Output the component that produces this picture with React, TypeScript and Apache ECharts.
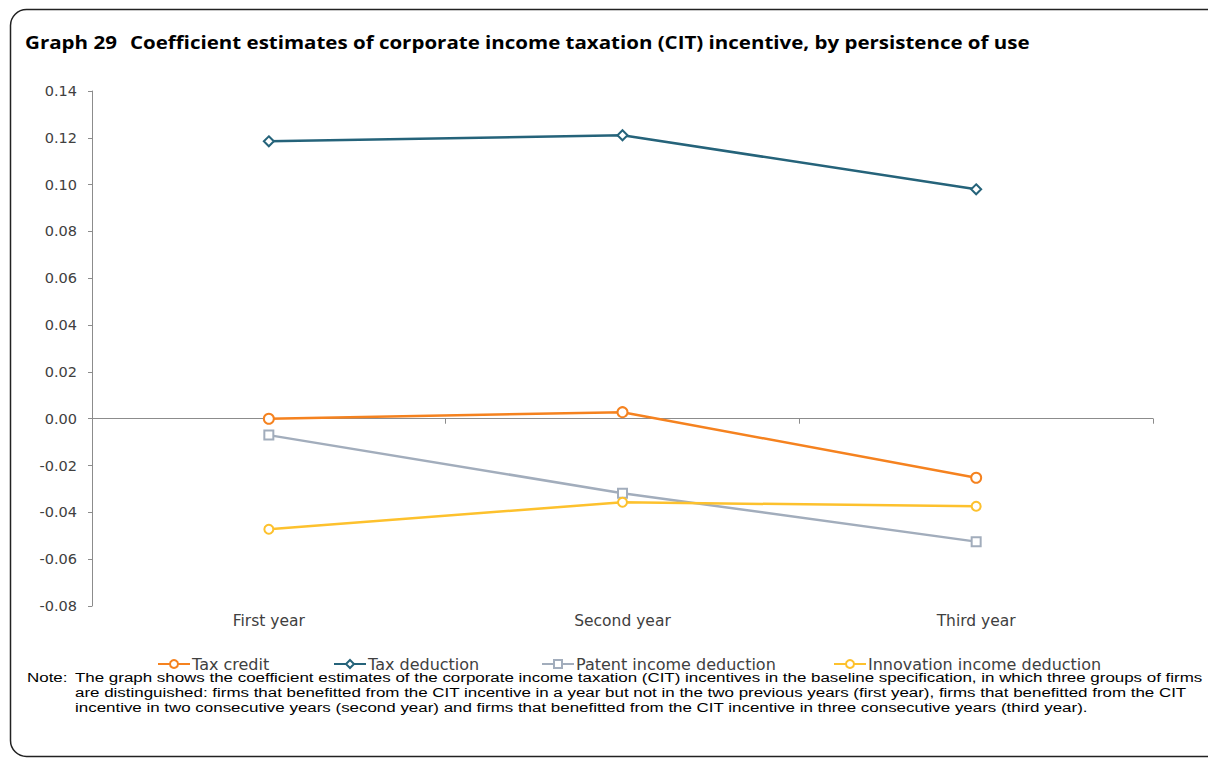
import React, { useEffect, useRef } from "react";
import * as echarts from "echarts";

const categories = ["First year", "Second year", "Third year"];
const taxCredit = [0.0, 0.0028, -0.0252];
const taxDeduction = [0.1185, 0.1211, 0.098];
const patentIncome = [-0.007, -0.0318, -0.0525];
const innovationIncome = [-0.0472, -0.0357, -0.0374];
const seriesNames = ["Tax credit", "Tax deduction", "Patent income deduction", "Innovation income deduction"];
const yTicks = { min: -0.08, max: 0.14, step: 0.02 };

const titleNum = "Graph 29";
const titleText = "Coefficient estimates of corporate income taxation (CIT) incentive, by persistence of use";
const noteLabel = "Note:";
const noteLines = [
  "The graph shows the coefficient estimates of the corporate income taxation (CIT) incentives in the baseline specification, in which three groups of firms",
  "are distinguished: firms that benefitted from the CIT incentive in a year but not in the two previous years (first year), firms that benefitted from the CIT",
  "incentive in two consecutive years (second year) and firms that benefitted from the CIT incentive in three consecutive years (third year).",
];

const FONT = "DejaVu Sans";
const TITLE_FONT = "Open Sans";
const NOTE_FONT = "Liberation Sans";

function measure(text: string, font: string): number {
  const c = document.createElement("canvas").getContext("2d");
  if (!c) return 0;
  c.font = font;
  return c.measureText(text).width;
}

export default function App() {
  const ref = useRef<HTMLDivElement>(null);
  useEffect(() => {
    if (!ref.current) return;
    const chart = echarts.init(ref.current, null, { renderer: "svg" });

    const titleFontSize = 18.5;
    const titleCss = `bold ${titleFontSize}px "${TITLE_FONT}"`;
    const wNum = measure(titleNum, titleCss) || 80;
    const wTitle = measure(titleText, titleCss) || 800;
    const sNum = 92 / wNum;
    const sTitle = 900 / wTitle;

    const noteFontSize = 13.5;
    const noteCss = `${noteFontSize}px "${NOTE_FONT}"`;
    const wNote = measure(noteLines[0], noteCss) || 1000;
    const sNote = 1129 / wNote;

    const mk = (name: string, data: number[], color: string, symbol: string, size: number) => ({
      name,
      type: "line",
      data,
      xAxisIndex: 0,
      yAxisIndex: 0,
      symbol,
      symbolSize: size,
      showAllSymbol: true,
      lineStyle: { color, width: 2.5 },
      itemStyle: { color, borderColor: color, borderWidth: 1 },
      emphasis: { disabled: true },
    });

    const legendLefts = [157, 333, 541, 833];
    const legends = seriesNames.map((n, i) => ({
      left: legendLefts[i],
      top: 656,
      padding: 0,
      itemWidth: 32,
      itemHeight: 10,
      itemGap: 0,
      textStyle: { fontFamily: FONT, fontSize: 16, color: "#404040", padding: [0, 0, 0, -3] },
      data: [n],
    }));

    chart.setOption({
      animation: false,
      backgroundColor: "#ffffff",
      grid: { left: 92, right: 55, top: 91, bottom: 154, containLabel: false },
      legend: legends,
      xAxis: [
        {
          type: "category",
          data: categories,
          boundaryGap: true,
          axisLine: { onZero: true, lineStyle: { color: "#8c8c8c", width: 1 } },
          axisTick: { show: true, length: 5, lineStyle: { color: "#8c8c8c" } },
          axisLabel: { show: false },
        },
        {
          type: "category",
          data: categories,
          position: "bottom",
          boundaryGap: true,
          axisLine: { show: false },
          axisTick: { show: false },
          axisLabel: { margin: 7, fontFamily: FONT, fontSize: 15.5, color: "#404040" },
        },
      ],
      yAxis: {
        type: "value",
        min: yTicks.min,
        max: yTicks.max,
        interval: yTicks.step,
        axisLine: { show: true, lineStyle: { color: "#8c8c8c", width: 1 } },
        axisTick: { show: true, length: 4, lineStyle: { color: "#8c8c8c" } },
        splitLine: { show: false },
        axisLabel: {
          margin: 15,
          fontFamily: FONT,
          fontSize: 14.5,
          color: "#404040",
          formatter: (v: number) => v.toFixed(2),
        },
      },
      series: [
        mk(seriesNames[0], taxCredit, "#F5821F", "emptyCircle", 10),
        mk(seriesNames[1], taxDeduction, "#25637A", "emptyDiamond", 10),
        mk(seriesNames[2], patentIncome, "#A2ADBC", "emptyRect", 9),
        mk(seriesNames[3], innovationIncome, "#FDC12D", "emptyCircle", 9),
      ],
      graphic: [
        {
          type: "rect",
          shape: { x: 10.5, y: 9.5, width: 1400, height: 747, r: [16, 0, 0, 16] },
          style: { fill: "none", stroke: "#222", lineWidth: 1.5 },
          silent: true,
        },
        {
          type: "text",
          x: 25,
          y: 42,
          scaleX: sNum,
          style: {
            text: titleNum,
            fontFamily: TITLE_FONT,
            fontWeight: "bold",
            fontSize: titleFontSize,
            fill: "#000",
            align: "left",
            verticalAlign: "middle",
          },
        },
        {
          type: "text",
          x: 130,
          y: 42,
          scaleX: sTitle,
          style: {
            text: titleText,
            fontFamily: TITLE_FONT,
            fontWeight: "bold",
            fontSize: titleFontSize,
            fill: "#000",
            align: "left",
            verticalAlign: "middle",
          },
        },
        {
          type: "text",
          x: 27,
          y: 677,
          scaleX: sNote,
          style: {
            text: noteLabel,
            fontFamily: NOTE_FONT,
            fontSize: noteFontSize,
            fill: "#000",
            align: "left",
            verticalAlign: "middle",
          },
        },
        ...noteLines.map((line, i) => ({
          type: "text",
          x: 75,
          y: 677 + i * 15,
          scaleX: sNote,
          style: {
            text: line,
            fontFamily: NOTE_FONT,
            fontSize: noteFontSize,
            fill: "#000",
            align: "left",
            verticalAlign: "middle",
          },
        })),
      ],
    });
    return () => chart.dispose();
  }, []);
  return <div ref={ref} style={{ position: "absolute", left: 0, top: 0, width: 1208, height: 760 }} />;
}
